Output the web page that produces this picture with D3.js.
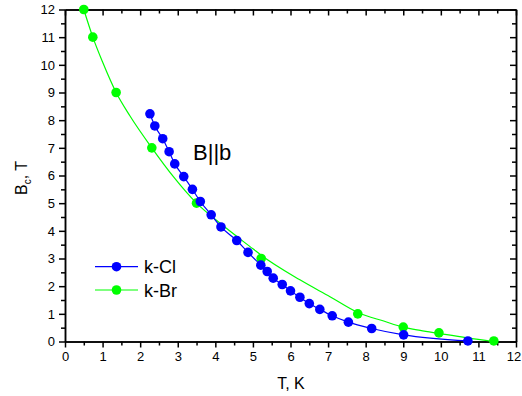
<!DOCTYPE html>
<html lang="en">
<head>
    <meta charset="UTF-8">
    <title>Bc vs T</title>
    <script src="https://d3js.org/d3.v7.min.js"></script>
    <style>
        body { margin: 0; background: #fff; }
        text { font-family: "Liberation Sans", Arial, sans-serif; }
    </style>
</head>
<body>
    <svg id="chart"></svg>

    <script>
        // k-Cl data (T in K, Bc in T)
        const tempCl = [2.26, 2.39, 2.60, 2.77, 2.92, 3.16, 3.39, 3.60, 3.89, 4.15, 4.57, 4.87, 5.21, 5.38, 5.54, 5.78, 6.00, 6.25, 6.50, 6.78, 7.11, 7.54, 8.16, 9.01, 10.72];
        const bcCl = [8.23, 7.79, 7.33, 6.86, 6.42, 5.96, 5.50, 5.06, 4.58, 4.14, 3.65, 3.22, 2.76, 2.53, 2.29, 2.06, 1.83, 1.60, 1.37, 1.16, 0.93, 0.70, 0.47, 0.24, 0.02];

        // k-Br data points
        const tempBr = [0.50, 0.74, 1.36, 2.31, 3.50, 5.22, 7.79, 9.00, 9.95, 11.41];
        const bcBr = [12.0, 11.0, 9.0, 7.0, 5.0, 3.0, 1.0, 0.52, 0.31, 0.02];

        // k-Br smooth curve
        const fitT = [0.50, 0.74, 1.00, 1.36, 1.73, 2.31, 2.90, 3.50, 4.12, 5.00, 5.22, 6.25, 7.05, 7.79, 8.50, 9.00, 9.45, 9.95, 10.70, 11.41];
        const fitB = [12.0, 11.0, 10.1, 9.0, 8.15, 7.0, 5.93, 5.0, 4.28, 3.35, 3.12, 2.23, 1.62, 1.05, 0.73, 0.52, 0.40, 0.29, 0.13, 0.0];

        const xTicks = d3.range(0, 13, 1);
        const yTicks = d3.range(0, 13, 1);
        const minorTicks = d3.range(0, 12.5, 0.5);

        const W = 522, H = 396;
        const margin = { top: 9.5, right: 6, bottom: 54.5, left: 65 };
        const width = W - margin.left - margin.right;
        const height = H - margin.top - margin.bottom;

        const svg = d3.select("#chart")
            .attr("width", W)
            .attr("height", H);

        const g = svg.append("g")
            .attr("transform", `translate(${margin.left},${margin.top})`);

        const x = d3.scaleLinear().domain([0, 12]).range([0, width]);
        const y = d3.scaleLinear().domain([0, 12]).range([height, 0]);

        // axes: bottom/left outward, top/right inward
        function styleAxis(sel) {
            sel.select(".domain").attr("stroke", "#000").attr("stroke-width", 1.5);
            sel.selectAll(".tick line").attr("stroke", "#000").attr("stroke-width", 1.5);
            sel.selectAll("text").attr("font-size", 13).attr("fill", "#000");
        }

        const minorX = minorTicks.filter(v => v % 1 !== 0);

        g.append("g").attr("transform", `translate(0,${height})`)
            .call(d3.axisBottom(x).tickValues(minorX).tickSize(4).tickFormat("").tickSizeOuter(0))
            .call(styleAxis);
        const xAxis = g.append("g").attr("transform", `translate(0,${height})`)
            .call(d3.axisBottom(x).tickValues(xTicks).tickSize(6).tickPadding(4).tickSizeOuter(0))
            .call(styleAxis);
        // keep the last label inside the window
        xAxis.selectAll(".tick text").filter(d => d === 12).attr("dx", -2.5);

        g.append("g")
            .call(d3.axisLeft(y).tickValues(minorX).tickSize(4).tickFormat("").tickSizeOuter(0))
            .call(styleAxis);
        g.append("g")
            .call(d3.axisLeft(y).tickValues(yTicks).tickSize(6).tickPadding(4).tickSizeOuter(0))
            .call(styleAxis);

        g.append("g")
            .call(d3.axisTop(x).tickValues(minorX).tickSize(-4).tickFormat("").tickSizeOuter(0))
            .call(styleAxis);
        g.append("g")
            .call(d3.axisTop(x).tickValues(xTicks).tickSize(-6).tickFormat("").tickSizeOuter(0))
            .call(styleAxis);

        g.append("g").attr("transform", `translate(${width},0)`)
            .call(d3.axisRight(y).tickValues(minorX).tickSize(-4).tickFormat("").tickSizeOuter(0))
            .call(styleAxis);
        g.append("g").attr("transform", `translate(${width},0)`)
            .call(d3.axisRight(y).tickValues(yTicks).tickSize(-6).tickFormat("").tickSizeOuter(0))
            .call(styleAxis);

        const line = d3.line()
            .x(d => x(d[0]))
            .y(d => y(d[1]))
            .curve(d3.curveMonotoneX);

        const clDat = tempCl.map((t, i) => [t, bcCl[i]]);
        const brDat = tempBr.map((t, i) => [t, bcBr[i]]);
        const fitDat = fitT.map((t, i) => [t, fitB[i]]);

        g.append("path")
            .datum(fitDat)
            .attr("d", line)
            .attr("fill", "none")
            .attr("stroke", "#00ff00")
            .attr("stroke-width", 1.2);

        g.append("path")
            .datum(clDat)
            .attr("d", line)
            .attr("fill", "none")
            .attr("stroke", "#0000ff")
            .attr("stroke-width", 1.2);

        g.selectAll(".br").data(brDat).enter().append("circle")
            .attr("cx", d => x(d[0]))
            .attr("cy", d => y(d[1]))
            .attr("r", 4.8)
            .attr("fill", "#00ff00");

        g.selectAll(".cl").data(clDat).enter().append("circle")
            .attr("cx", d => x(d[0]))
            .attr("cy", d => y(d[1]))
            .attr("r", 4.8)
            .attr("fill", "#0000ff");

        // legend
        const legend = [
            { name: "k-Cl", color: "#0000ff", y: 266.7 },
            { name: "k-Br", color: "#00ff00", y: 290 }
        ];
        legend.forEach(l => {
            svg.append("line")
                .attr("x1", 95).attr("x2", 138)
                .attr("y1", l.y).attr("y2", l.y)
                .attr("stroke", l.color).attr("stroke-width", 1.2);
            svg.append("circle")
                .attr("cx", 116.5).attr("cy", l.y).attr("r", 4.8)
                .attr("fill", l.color);
            svg.append("text")
                .attr("x", 144).attr("y", l.y + 6.5)
                .attr("font-size", 18)
                .text(l.name);
        });

        // annotation
        svg.append("text")
            .attr("x", 193).attr("y", 160)
            .attr("font-size", 22)
            .text("B||b");

        // axis titles
        svg.append("text")
            .attr("x", 291).attr("y", 389)
            .attr("text-anchor", "middle")
            .attr("font-size", 16)
            .text("T, K");

        const yt = svg.append("text")
            .attr("transform", "translate(27,178) rotate(-90)")
            .attr("text-anchor", "middle")
            .attr("font-size", 16);
        yt.append("tspan").text("B");
        yt.append("tspan").attr("font-size", 10).attr("dy", 4).text("c");
        yt.append("tspan").attr("dy", -4).text(", T");
    </script>
</body>
</html>
